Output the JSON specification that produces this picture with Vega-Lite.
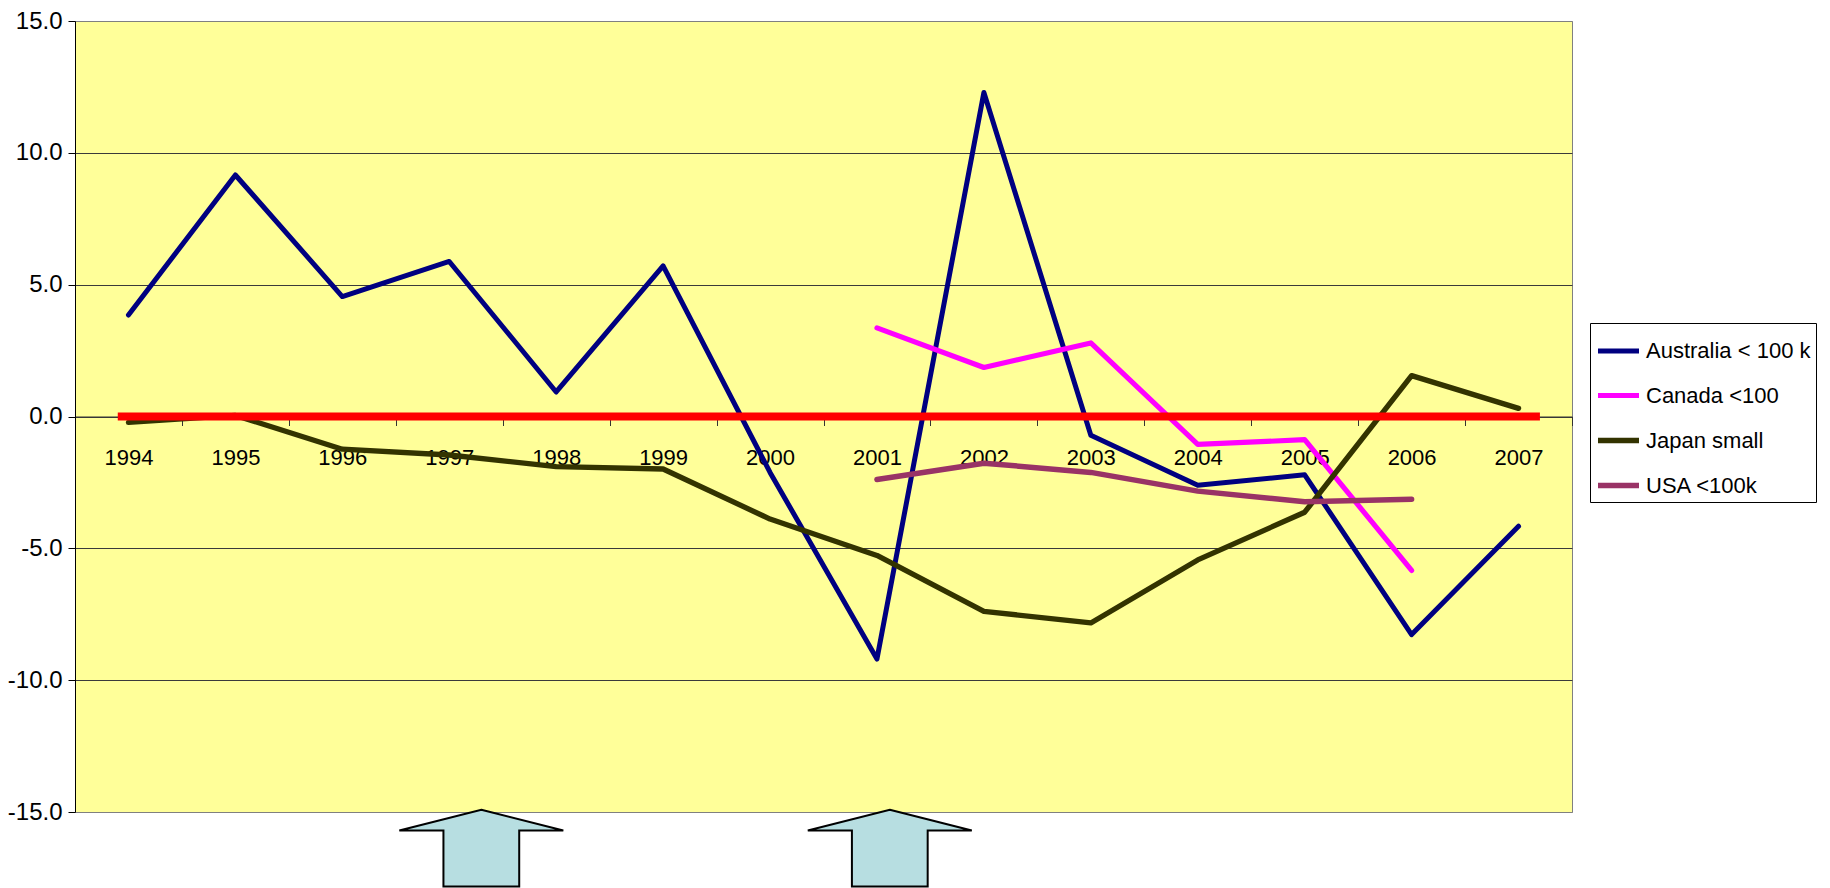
{
  "$schema": "https://vega.github.io/schema/vega-lite/v6.json",
  "width": 1497,
  "height": 791,
  "autosize": {"type": "none"},
  "padding": {"left": 75, "top": 21, "right": 258, "bottom": 76},
  "background": "#ffffff",
  "config": {
    "view": {"fill": "#FFFF99", "stroke": "#808080", "strokeWidth": 1},
    "font": "Liberation Sans, Arial"
  },
  "datasets": {
    "series": [
      {"series": "Australia < 100 k", "year": "1994", "value": 3.85},
      {"series": "Australia < 100 k", "year": "1995", "value": 9.16},
      {"series": "Australia < 100 k", "year": "1996", "value": 4.55},
      {"series": "Australia < 100 k", "year": "1997", "value": 5.88},
      {"series": "Australia < 100 k", "year": "1998", "value": 0.93},
      {"series": "Australia < 100 k", "year": "1999", "value": 5.71},
      {"series": "Australia < 100 k", "year": "2000", "value": -2.12},
      {"series": "Australia < 100 k", "year": "2001", "value": -9.2},
      {"series": "Australia < 100 k", "year": "2002", "value": 12.29},
      {"series": "Australia < 100 k", "year": "2003", "value": -0.71},
      {"series": "Australia < 100 k", "year": "2004", "value": -2.61},
      {"series": "Australia < 100 k", "year": "2005", "value": -2.21},
      {"series": "Australia < 100 k", "year": "2006", "value": -8.27},
      {"series": "Australia < 100 k", "year": "2007", "value": -4.16},
      {"series": "Canada <100", "year": "2001", "value": 3.36},
      {"series": "Canada <100", "year": "2002", "value": 1.86},
      {"series": "Canada <100", "year": "2003", "value": 2.79},
      {"series": "Canada <100", "year": "2004", "value": -1.06},
      {"series": "Canada <100", "year": "2005", "value": -0.88},
      {"series": "Canada <100", "year": "2006", "value": -5.84},
      {"series": "Japan small", "year": "1994", "value": -0.22},
      {"series": "Japan small", "year": "1995", "value": 0.04},
      {"series": "Japan small", "year": "1996", "value": -1.24},
      {"series": "Japan small", "year": "1997", "value": -1.46},
      {"series": "Japan small", "year": "1998", "value": -1.9},
      {"series": "Japan small", "year": "1999", "value": -1.99},
      {"series": "Japan small", "year": "2000", "value": -3.89},
      {"series": "Japan small", "year": "2001", "value": -5.27},
      {"series": "Japan small", "year": "2002", "value": -7.39},
      {"series": "Japan small", "year": "2003", "value": -7.83},
      {"series": "Japan small", "year": "2004", "value": -5.44},
      {"series": "Japan small", "year": "2005", "value": -3.63},
      {"series": "Japan small", "year": "2006", "value": 1.55},
      {"series": "Japan small", "year": "2007", "value": 0.31},
      {"series": "USA <100k", "year": "2001", "value": -2.39},
      {"series": "USA <100k", "year": "2002", "value": -1.77},
      {"series": "USA <100k", "year": "2003", "value": -2.12},
      {"series": "USA <100k", "year": "2004", "value": -2.83},
      {"series": "USA <100k", "year": "2005", "value": -3.23},
      {"series": "USA <100k", "year": "2006", "value": -3.14}
    ],
    "redline": [
      {"start": 1993.9, "end": 2007.2, "value": 0}
    ],
    "arrows": [
      {"pos": 1997.3, "value": -16.37},
      {"pos": 2001.12, "value": -16.37}
    ]
  },
  "layer": [
    {
      "data": {"name": "series"},
      "mark": {"type": "line", "strokeCap": "round", "strokeJoin": "round"},
      "encoding": {
        "x": {
          "field": "year", "type": "ordinal", "bandPosition": 0.5,
          "scale": {"type": "band", "paddingInner": 0, "paddingOuter": 0},
          "axis": {
            "title": null, "offset": -395.5, "tickBand": "extent", "ticks": true,
            "tickSize": 9, "tickColor": "#333333", "domainColor": "#333333", "domainWidth": 1,
            "labelAngle": 0, "labelFont": "Liberation Sans, Arial",
            "labelFontSize": 22, "labelColor": "#000000", "labelPadding": 22, "grid": false
          }
        },
        "y": {
          "field": "value", "type": "quantitative",
          "scale": {"domain": [-15, 15], "nice": false, "zero": false},
          "axis": {
            "title": null, "values": [-15, -10, -5, 0, 5, 10, 15],
            "labelExpr": "replace(format(datum.value, '.1f'), '\u2212', '-')",
            "grid": true,
            "gridColor": {"condition": {"test": "abs(datum.value) == 15", "value": "#808080"}, "value": "#3a3a3a"},
            "gridWidth": 1, "domainColor": "#000000", "tickColor": "#000000", "tickSize": 7,
            "labelPadding": 6, "labelFont": "Liberation Sans, Arial",
            "labelFontSize": 24, "labelColor": "#000000"
          }
        },
        "color": {
          "field": "series", "type": "nominal",
          "scale": {
            "domain": ["Australia < 100 k", "Canada <100", "Japan small", "USA <100k"],
            "range": ["#000080", "#FF00FF", "#333300", "#993366"]
          },
          "legend": {
            "title": null, "orient": "none", "legendX": 1515, "legendY": 302,
            "symbolType": "stroke", "symbolSize": 1681, "symbolStrokeWidth": 6,
            "labelFont": "Liberation Sans, Arial", "labelFontSize": 22,
            "labelColor": "#000000", "labelOffset": 4, "padding": 5, "rowPadding": 10,
            "strokeColor": "#000000", "fillColor": "#ffffff", "labelLimit": 0
          }
        },
        "strokeWidth": {
          "field": "series", "type": "nominal",
          "scale": {
            "domain": ["Australia < 100 k", "Canada <100", "Japan small", "USA <100k"],
            "range": [5, 5.5, 7, 6.5]
          },
          "legend": null
        }
      }
    },
    {
      "data": {"name": "redline"},
      "mark": {"type": "rule", "color": "#FF0000", "strokeWidth": 8},
      "encoding": {
        "x": {"field": "start", "type": "quantitative", "scale": {"domain": [1993.5, 2007.5], "nice": false, "zero": false}, "axis": null},
        "x2": {"field": "end"},
        "y": {
          "field": "value", "type": "quantitative",
          "scale": {"domain": [-15, 15], "nice": false, "zero": false},
          "axis": {
            "title": null, "values": [-15, -10, -5, 0, 5, 10, 15],
            "labelExpr": "replace(format(datum.value, '.1f'), '\u2212', '-')",
            "grid": true,
            "gridColor": {"condition": {"test": "abs(datum.value) == 15", "value": "#808080"}, "value": "#3a3a3a"},
            "gridWidth": 1, "domainColor": "#000000", "tickColor": "#000000", "tickSize": 7,
            "labelPadding": 6, "labelFont": "Liberation Sans, Arial",
            "labelFontSize": 24, "labelColor": "#000000"
          }
        }
      }
    },
    {
      "data": {"name": "arrows"},
      "mark": {
        "type": "point",
        "shape": "M0,-0.468 L1,-0.215 L0.462,-0.215 L0.462,0.468 L-0.462,0.468 L-0.462,-0.215 L-1,-0.215 Z",
        "size": 26896, "filled": true, "fill": "#B7DEE1", "stroke": "#000000", "strokeWidth": 2, "opacity": 1
      },
      "encoding": {
        "x": {"field": "pos", "type": "quantitative", "scale": {"domain": [1993.5, 2007.5], "nice": false, "zero": false}, "axis": null},
        "y": {
          "field": "value", "type": "quantitative",
          "scale": {"domain": [-15, 15], "nice": false, "zero": false},
          "axis": {
            "title": null, "values": [-15, -10, -5, 0, 5, 10, 15],
            "labelExpr": "replace(format(datum.value, '.1f'), '\u2212', '-')",
            "grid": true,
            "gridColor": {"condition": {"test": "abs(datum.value) == 15", "value": "#808080"}, "value": "#3a3a3a"},
            "gridWidth": 1, "domainColor": "#000000", "tickColor": "#000000", "tickSize": 7,
            "labelPadding": 6, "labelFont": "Liberation Sans, Arial",
            "labelFontSize": 24, "labelColor": "#000000"
          }
        }
      }
    }
  ],
  "resolve": {"scale": {"x": "independent"}}
}
